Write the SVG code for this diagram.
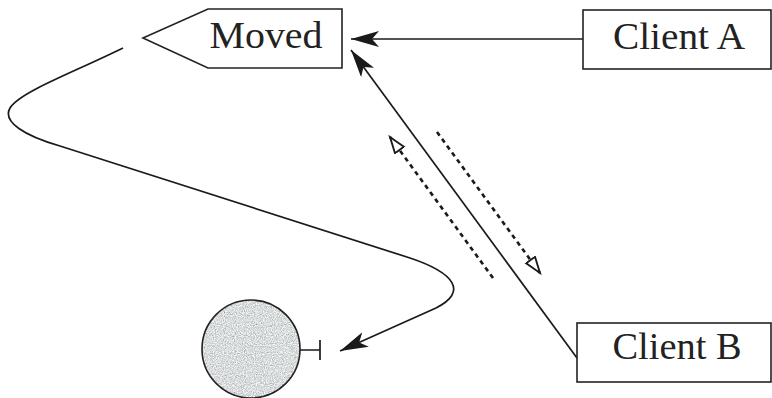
<svg xmlns="http://www.w3.org/2000/svg" width="772" height="398" viewBox="0 0 772 398">
<style>
.box{fill:#fff;stroke:#222;stroke-width:1.6}
.lbl{font-family:"Liberation Serif","DejaVu Serif",serif;font-size:37px;fill:#222}
.conn{fill:none;stroke:#1a1a1a;stroke-width:1.7}
.dash{fill:none;stroke:#1a1a1a;stroke-width:2.6;stroke-dasharray:4.5 4}
</style>
<defs>
<marker id="solid" markerUnits="userSpaceOnUse" markerWidth="34" markerHeight="20" refX="28" refY="8" orient="auto">
<path d="M28,8 L0,0 L7,8 L0,16 Z" fill="#1a1a1a"/>
</marker>
<marker id="open" markerUnits="userSpaceOnUse" markerWidth="22" markerHeight="16" refX="17" refY="6.5" orient="auto">
<path d="M17,6.5 L1,1 L1,12 Z" fill="#fff" stroke="#1a1a1a" stroke-width="1.9"/>
</marker>
<filter id="grain" x="0" y="0" width="100%" height="100%">
<feTurbulence type="fractalNoise" baseFrequency="0.9" numOctaves="2" seed="4" result="n"/>
<feColorMatrix in="n" type="saturate" values="0" result="g"/>
<feComponentTransfer in="g" result="g2">
<feFuncR type="linear" slope="1.3" intercept="0.05"/>
<feFuncG type="linear" slope="1.3" intercept="0.07"/>
<feFuncB type="linear" slope="1.3" intercept="0.07"/>
<feFuncA type="linear" slope="0" intercept="1"/>
</feComponentTransfer>
<feComposite in="g2" in2="SourceGraphic" operator="in"/>
</filter>
</defs>
<g id="connectors">
<path class="conn" d="M583,39 L351,39" marker-end="url(#solid)"/>
<path class="conn" d="M577,358 L351,50" marker-end="url(#solid)"/>
<path class="dash" d="M493,278 L390,137" marker-end="url(#open)"/>
<path class="dash" d="M437,132 L540,273" marker-end="url(#open)"/>
<path class="conn" d="M123,48 C70,74 20,92 10,108 C2,122 25,136 60,146 L410,258 C455,273 468,292 436,308 L340,351" marker-end="url(#solid)"/>
</g>
<g id="moved">
<polygon class="box" points="143,38 208,9 342,9 342,68 208,68"/>
<text class="lbl" x="266" y="48" text-anchor="middle" textLength="113" lengthAdjust="spacingAndGlyphs">Moved</text>
</g>
<g id="clientA">
<rect class="box" x="583" y="10" width="188" height="59"/>
<text class="lbl" x="679" y="49" text-anchor="middle" textLength="132" lengthAdjust="spacingAndGlyphs">Client A</text>
</g>
<g id="clientB">
<rect class="box" x="577" y="323" width="194" height="59"/>
<text class="lbl" x="677" y="359" text-anchor="middle" textLength="129" lengthAdjust="spacingAndGlyphs">Client B</text>
</g>
<g id="sphere">
<circle cx="251" cy="349" r="49" fill="#bbb" filter="url(#grain)"/>
<circle cx="251" cy="349" r="49" fill="none" stroke="#222" stroke-width="1.6"/>
<path class="conn" d="M300,350 L320,350 M320,340 L320,360"/>
</g>
</svg>
